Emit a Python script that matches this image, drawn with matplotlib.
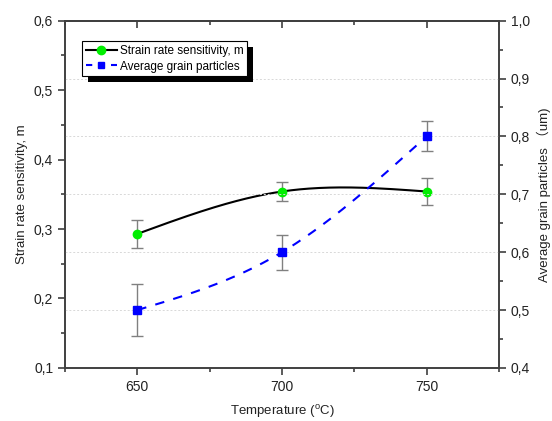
import numpy as np
import matplotlib
matplotlib.use("Agg")
import matplotlib.pyplot as plt
from matplotlib.ticker import MultipleLocator, FuncFormatter
from matplotlib.patches import Rectangle
from matplotlib.transforms import IdentityTransform
from matplotlib.lines import Line2D

plt.rcParams['font.family'] = ['Liberation Sans', 'Noto Sans CJK SC', 'DejaVu Sans']

temperature = [650, 700, 750]
strain_rate_m = [0.293, 0.354, 0.354]
strain_rate_err = [0.020, 0.014, 0.020]
grain_size = [0.50, 0.60, 0.80]
grain_err = [0.045, 0.030, 0.026]


def natural_spline(x, y, n=200):
    x = np.asarray(x, float)
    y = np.asarray(y, float)
    h = np.diff(x)
    nseg = len(x)
    A = np.zeros((nseg, nseg))
    r = np.zeros(nseg)
    A[0, 0] = 1
    A[-1, -1] = 1
    for i in range(1, nseg - 1):
        A[i, i - 1] = h[i - 1] / 6
        A[i, i] = (h[i - 1] + h[i]) / 3
        A[i, i + 1] = h[i] / 6
        r[i] = (y[i + 1] - y[i]) / h[i] - (y[i] - y[i - 1]) / h[i - 1]
    M = np.linalg.solve(A, r)
    xs = np.linspace(x[0], x[-1], n)
    ys = np.empty_like(xs)
    for k, xv in enumerate(xs):
        i = min(np.searchsorted(x, xv, side='right') - 1, nseg - 2)
        hi = h[i]
        a = x[i + 1] - xv
        b = xv - x[i]
        ys[k] = (M[i] * a ** 3 + M[i + 1] * b ** 3) / (6 * hi) \
            + (y[i] / hi - M[i] * hi / 6) * a + (y[i + 1] / hi - M[i + 1] * hi / 6) * b
    return xs, ys


fig = plt.figure(figsize=(5.52, 4.21), dpi=100)
ax = fig.add_axes([0.1178, 0.126, 0.786, 0.825])
ax2 = ax.twinx()

spine_col = '#404040'
text_col = '#222222'
comma = FuncFormatter(lambda v, p: f"{v:.1f}".replace('.', ','))

for gy in [0.5, 0.6, 0.7, 0.8, 0.9]:
    ax2.axhline(gy, color='#d8d8d8', lw=0.7, ls=(0, (2, 2)), zorder=0)

xs, ys = natural_spline(temperature, strain_rate_m)
ax.plot(xs, ys, color='black', lw=1.5, zorder=3)
ax.errorbar(temperature, strain_rate_m, yerr=strain_rate_err, fmt='none',
            ecolor='#808080', elinewidth=1, capsize=4, capthick=1, zorder=2)
ax.plot(temperature, strain_rate_m, 'o', color='#00ee00', ms=6, zorder=4)

xs2, ys2 = natural_spline(temperature, grain_size)
ax2.plot(xs2, ys2, color='#0000ff', lw=1.5, ls=(0, (4.5, 4.5)), zorder=3)
ax2.errorbar(temperature, grain_size, yerr=grain_err, fmt='none',
             ecolor='#808080', elinewidth=1, capsize=4, capthick=1, zorder=2)
ax2.plot(temperature, grain_size, 's', color='#0000ff', ms=5.5, zorder=4)

ax.set_xlim(625, 775)
ax.set_ylim(0.1, 0.6)
ax2.set_ylim(0.4, 1.0)

ax.xaxis.set_major_locator(MultipleLocator(50))
ax.xaxis.set_minor_locator(MultipleLocator(25))
ax.yaxis.set_major_locator(MultipleLocator(0.1))
ax.yaxis.set_minor_locator(MultipleLocator(0.05))
ax2.yaxis.set_major_locator(MultipleLocator(0.1))
ax2.yaxis.set_minor_locator(MultipleLocator(0.05))
ax.yaxis.set_major_formatter(comma)
ax2.yaxis.set_major_formatter(comma)

for a in (ax, ax2):
    for s in a.spines.values():
        s.set_color(spine_col)
        s.set_linewidth(1.2)
for a, axis in ((ax, 'x'), (ax, 'y'), (ax2, 'y')):
    a.tick_params(axis=axis, which='both', direction='out', colors=spine_col,
                  labelcolor=text_col, labelsize=10)
    a.tick_params(axis=axis, which='major', length=5, width=1.2)
    a.tick_params(axis=axis, which='minor', length=3, width=1.2)

sec = ax.secondary_xaxis('top')
sec.xaxis.set_major_locator(MultipleLocator(50))
sec.xaxis.set_minor_locator(MultipleLocator(25))
sec.tick_params(axis='x', which='both', direction='in', labeltop=False, colors=spine_col)
sec.tick_params(axis='x', which='major', length=5, width=1.2)
sec.tick_params(axis='x', which='minor', length=3, width=1.2)
sec.spines['top'].set_color(spine_col)
sec.spines['top'].set_linewidth(1.2)

ax.set_xlabel('Temperature ($\\mathregular{^{o}}$C)', fontsize=9.5, color=text_col, labelpad=7)
ax.set_ylabel('Strain rate sensitivity, m', fontsize=9.5, color=text_col, labelpad=4)
ax2.set_ylabel('Average grain particles （um)', fontsize=9.5, color=text_col, labelpad=5)

h1 = Line2D([], [], color='black', lw=1.5, marker='o', mfc='#00ee00', mec='#00ee00', ms=6)
h2 = Line2D([], [], color='#0000ff', lw=1.5, ls=(0, (3, 3)), marker='s', mfc='#0000ff', mec='#0000ff', ms=5)
leg = ax2.legend([h1, h2], ['Strain rate sensitivity, m', 'Average grain particles'],
                 loc='upper left', bbox_to_anchor=(0.04, 0.94), fontsize=8.5,
                 frameon=True, fancybox=False, edgecolor='black', framealpha=1,
                 handlelength=2.6, handletextpad=0.3, borderpad=0.3, labelspacing=0.3,
                 borderaxespad=0)
leg.get_frame().set_linewidth(0.8)
leg.set_zorder(11)

fig.canvas.draw()
bb = leg.get_window_extent()
off = 6
shadow = Rectangle((bb.x0 + off, bb.y0 - off), bb.width, bb.height,
                   transform=IdentityTransform(), facecolor='black', edgecolor='none', zorder=10)
ax2.add_artist(shadow)

fig.savefig('out.png', dpi=100)
